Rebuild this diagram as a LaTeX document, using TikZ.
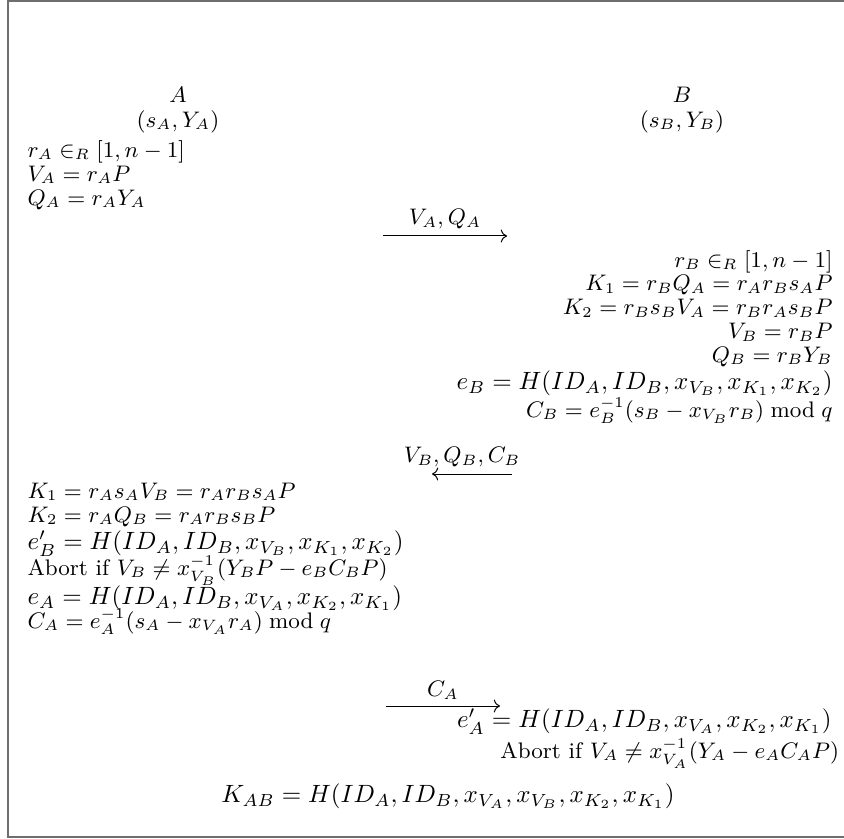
\documentclass[tikz,border=0pt]{standalone}
\usepackage{tikz}
\usetikzlibrary{positioning, arrows.meta, calc}
\definecolor{framegray}{RGB}{110,110,110}

\begin{document}
\begin{tikzpicture}[x=0.4pt, y=-0.4pt,
      sm/.style={font=\small, inner sep=0pt, text height=6.2pt, text depth=2pt},
      big/.style={font=\normalsize, inner sep=0pt, text height=8pt, text depth=3pt},
      msg/.style={->, line width=0.4pt},
      lbl/.style={font=\small, inner sep=0pt, above=2.5pt},
      frame/.style={draw=framegray, line width=0.6pt}]
    \useasboundingbox (0,0) rectangle (844,838);
    \draw[frame] (844,1) -- (8,1) -- (8,837) -- (844,837);

    \node[sm] (pa)  at (178,97) {$A$};
    \node[sm] (ka)  at (178,122) {$(s_A, Y_A)$};
    \node[sm] (pb)  at (682,97) {$B$};
    \node[sm] (kb)  at (682,122) {$(s_B, Y_B)$};

    \node[sm, anchor=west] (ra) at (27,152) {$r_A \in_R [1, n-1]$};
    \node[sm, below right=1pt and 0pt of ra.south west] (va) {$V_A = r_A P$};
    \node[sm, below right=1pt and 0pt of va.south west] (qa) {$Q_A = r_A Y_A$};

    \coordinate (m1s) at (383,236); \coordinate (m1e) at (507,236);
    \draw[msg] (m1s) -- node[lbl] (m1l) {$V_A, Q_A$} (m1e);

    \node[sm, anchor=east] (rb) at (833,262) {$r_B \in_R [1, n-1]$};
    \node[sm, below left=0.9pt and 0pt of rb.south east] (k1b) {$K_1 = r_B Q_A = r_A r_B s_A P$};
    \node[sm, below left=0.9pt and 0pt of k1b.south east] (k2b) {$K_2 = r_B s_B V_A = r_B r_A s_B P$};
    \node[sm, below left=0.9pt and 0pt of k2b.south east] (vb) {$V_B = r_B P$};
    \node[sm, below left=0.9pt and 0pt of vb.south east] (qb) {$Q_B = r_B Y_B$};
    \node[big, below left=0.4pt and 0pt of qb.south east] (eb) {$e_B = H(ID_A, ID_B, x_{V_B}, x_{K_1}, x_{K_2})$};
    \node[sm, below left=1.6pt and 0pt of eb.south east] (cb) {$C_B = e_B^{-1}(s_B - x_{V_B} r_B) \bmod q$};

    \coordinate (m2s) at (512,474); \coordinate (m2e) at (432,474);
    \draw[msg] (m2s) -- node[lbl, xshift=-4pt] (m2l) {$V_B, Q_B, C_B$} (m2e);

    \node[sm, anchor=west] (k1a) at (27,493) {$K_1 = r_A s_A V_B = r_A r_B s_A P$};
    \node[sm, below right=1pt and 0pt of k1a.south west] (k2a) {$K_2 = r_A Q_B = r_A r_B s_B P$};
    \node[big, below right=0.4pt and 0pt of k2a.south west] (eba) {$e'_B = H(ID_A, ID_B, x_{V_B}, x_{K_1}, x_{K_2})$};
    \node[sm, below right=0.8pt and 0pt of eba.south west] (aba) {Abort if $V_B \neq x_{V_B}^{-1}(Y_B P - e_B C_B P)$};
    \node[big, below right=1.2pt and 0pt of aba.south west] (ea) {$e_A = H(ID_A, ID_B, x_{V_A}, x_{K_2}, x_{K_1})$};
    \node[sm, below right=0pt and 0pt of ea.south west] (ca) {$C_A = e_A^{-1}(s_A - x_{V_A} r_A) \bmod q$};

    \coordinate (m3s) at (386,706); \coordinate (m3e) at (500,706);
    \draw[msg] (m3s) -- node[lbl] (m3l) {$C_A$} (m3e);

    \node[big, anchor=east] (eab) at (832,721) {$e'_A = H(ID_A, ID_B, x_{V_A}, x_{K_2}, x_{K_1})$};
    \node[sm, below left=2.8pt and -3pt of eab.south east] (abb) {Abort if $V_A \neq x_{V_A}^{-1}(Y_A - e_A C_A P)$};

    \node[big] (kab) at (448,796) {$K_{AB} = H(ID_A, ID_B, x_{V_A}, x_{V_B}, x_{K_2}, x_{K_1})$};
  \end{tikzpicture}
\end{document}
